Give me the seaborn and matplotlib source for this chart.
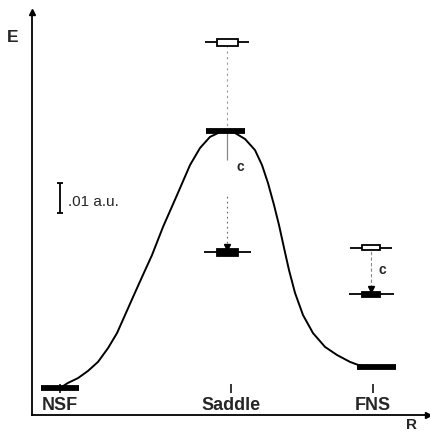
import numpy as np
import pandas as pd
import matplotlib
matplotlib.use("Agg")
import matplotlib.pyplot as plt
from matplotlib.patches import Rectangle
import seaborn as sns

# ---------------- data ----------------
# reaction path (R arbitrary units, E in a.u. relative to NSF)
curve_R = [0.000, 0.256, 0.575, 0.895, 1.214, 1.534, 1.821, 2.077, 2.332,
           2.620, 2.939, 3.291, 3.738, 4.153, 4.473, 4.792, 5.112, 5.335,
           5.591, 5.911, 6.230, 6.454, 6.645, 6.837, 6.997, 7.157, 7.316,
           7.508, 7.764, 8.083, 8.466, 8.850, 9.265, 9.521, 9.840]
curve_E = [0.0000, 0.0017, 0.0033, 0.0057, 0.0087, 0.0133, 0.0183, 0.0243,
           0.0303, 0.0370, 0.0443, 0.0537, 0.0643, 0.0743, 0.0800, 0.0837,
           0.0853, 0.0857, 0.0850, 0.0830, 0.0793, 0.0743, 0.0683, 0.0610,
           0.0543, 0.0467, 0.0393, 0.0317, 0.0243, 0.0183, 0.0137, 0.0110,
           0.0087, 0.0077, 0.0070]

states = ["NSF", "Saddle", "FNS"]
state_label_R = [0.0, 5.46, 10.0]
ground_R = [0.0, 5.30, 10.1]
ground_E = [0.0000, 0.0857, 0.0070]

# excited levels: open (upper) and filled (lower, after correction c)
excited_states = ["Saddle", "FNS"]
excited_R = [5.34, 9.94]
open_E = [0.1152, 0.0467]
filled_E = [0.0453, 0.0313]

scale_bar = 0.01  # a.u.
scale_label = ".01 a.u."

# ---------------- figure ----------------
sns.set_style("white")
plt.rcParams["font.family"] = ["Liberation Sans", "DejaVu Sans"]

fig = plt.figure(figsize=(4.31, 4.32), dpi=100)
ax = fig.add_axes([32 / 431, 17 / 432, 396 / 431, 403 / 432])
ax.set_xlim(-0.895, 11.757)
ax.set_ylim(-0.009, 0.12533)
for s in ["top", "right"]:
    ax.spines[s].set_visible(False)
for s in ["left", "bottom"]:
    ax.spines[s].set_color("black")
    ax.spines[s].set_linewidth(1.3)
ax.set_xticks([])
ax.set_yticks([])
ax.plot(1, 0, ">", color="black", ms=5, transform=ax.transAxes, clip_on=False)
ax.plot(0, 1, "^", color="black", ms=5, transform=ax.transAxes, clip_on=False)

# energy curve
df = pd.DataFrame({"R": curve_R, "E": curve_E})
sns.lineplot(data=df, x="R", y="E", sort=False, color="black", lw=1.4, ax=ax)

# ground levels (thick bars)
for r, e in zip(ground_R, ground_E):
    ax.hlines(e, r - 0.62, r + 0.62, color="black", lw=4.2, zorder=4)

# state ticks and labels
for name, r in zip(states, state_label_R):
    ax.vlines(r, -0.0017, 0.0014, color="black", lw=1.1)
    ax.text(r, -0.0057, name, ha="center", va="center", fontsize=13,
            fontweight="bold")

# excited levels
half_w = [0.70, 0.67]
box_w = [0.67, 0.56]
box_h = [0.0023, 0.0017]
for i, r in enumerate(excited_R):
    # open level
    ax.hlines(open_E[i], r - half_w[i], r + half_w[i], color="black", lw=1.3, zorder=4)
    ax.add_patch(Rectangle((r - box_w[i] / 2, open_E[i] - box_h[i] / 2), box_w[i], box_h[i],
                           facecolor="white", edgecolor="black", lw=1.3, zorder=5))
    # filled level
    ax.hlines(filled_E[i], r - half_w[i] - 0.05, r + half_w[i] + 0.05, color="black", lw=1.3, zorder=4)
    ax.add_patch(Rectangle((r - box_w[i] / 2, filled_E[i] - box_h[i] / 2), box_w[i], box_h[i],
                           facecolor="black", edgecolor="black", lw=1.3, zorder=5))

# saddle connector
rs = excited_R[0]
ax.vlines(rs, ground_E[1], open_E[0] - 0.0015, color="#999999", lw=0.8,
          linestyles=(0, (2, 3)))
ax.vlines(rs, ground_E[1] - 0.0097, ground_E[1], color="#888888", lw=0.9)
ax.vlines(rs, filled_E[0] + 0.003, ground_E[1] - 0.021, color="#666666", lw=0.8,
          linestyles=(0, (1.5, 3)))
ax.plot(rs, filled_E[0] + 0.0017, "v", color="black", ms=5, zorder=6)
ax.text(rs + 0.3, ground_E[1] - 0.0120, "c", fontsize=10, fontweight="bold",
        ha="left", va="center")

# FNS connector
rf = excited_R[1]
ax.vlines(rf, filled_E[1] + 0.002, open_E[1] - 0.0008, color="#888888", lw=0.8,
          linestyles=(0, (3, 2)))
ax.plot(rf, filled_E[1] + 0.0016, "v", color="black", ms=4.5, zorder=6)
ax.text(rf + 0.22, (open_E[1] + filled_E[1]) / 2 + 0.0002, "c", fontsize=10,
        fontweight="bold", ha="left", va="center")

# scale bar
ax.errorbar([0.0], [0.0633], yerr=scale_bar / 2, color="black", lw=1.3,
            capsize=2.5, capthick=1.3)
ax.text(0.25, 0.0620, scale_label, fontsize=11, ha="left", va="center")

# axis letters
fig.text(13 / 431, 1 - 37 / 432, "E", fontsize=12.5, fontweight="bold",
         ha="center", va="center")
fig.text(412 / 431, 1 - 425 / 432, "R", fontsize=11, fontweight="bold",
         ha="center", va="center")

fig.savefig("out.png", dpi=100)
